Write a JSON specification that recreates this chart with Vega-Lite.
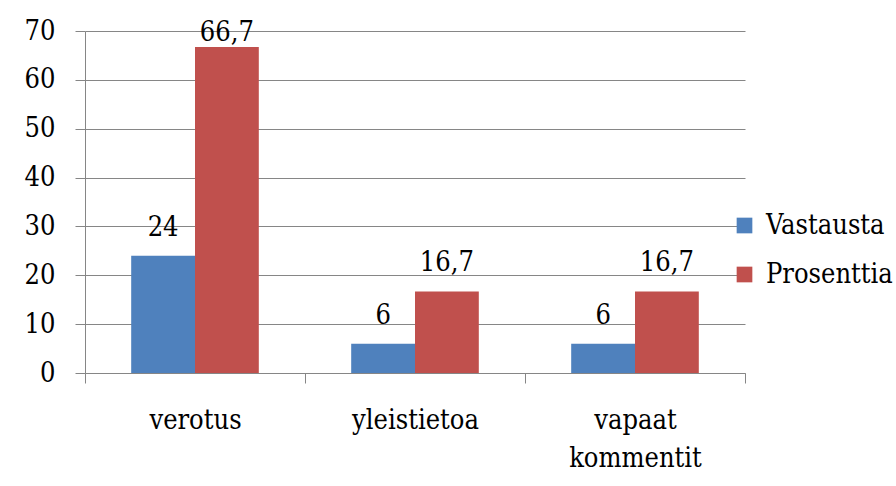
{
  "$schema": "https://vega.github.io/schema/vega-lite/v6.json",
  "width": 660,
  "height": 342,
  "autosize": {"type": "none"},
  "padding": {"left": 85, "top": 31, "right": 151, "bottom": 113},
  "background": "white",
  "config": {
    "view": {"stroke": null},
    "font": "DejaVu Serif Condensed",
    "locale": {"number": {"decimal": ",", "thousands": "\u00a0", "grouping": [3], "currency": ["", " €"]}}
  },
  "data": {
    "values": [
      {"category": "verotus", "series": "Vastausta", "value": 24},
      {"category": "verotus", "series": "Prosenttia", "value": 66.7},
      {"category": "yleistietoa", "series": "Vastausta", "value": 6},
      {"category": "yleistietoa", "series": "Prosenttia", "value": 16.7},
      {"category": "vapaat kommentit", "series": "Vastausta", "value": 6},
      {"category": "vapaat kommentit", "series": "Prosenttia", "value": 16.7}
    ]
  },
  "encoding": {
    "x": {
      "field": "category",
      "type": "nominal",
      "sort": ["verotus", "yleistietoa", "vapaat kommentit"],
      "scale": {"paddingInner": 0, "paddingOuter": 0},
      "title": null,
      "axis": {
        "tickBand": "extent",
        "tickSize": 10,
        "tickColor": "#868686",
        "domainColor": "#868686",
        "labelPadding": 24,
        "labelAngle": 0,
        "labelExpr": "isValid(datum.value) ? split(datum.value, ' ') : ''",
        "labelLineHeight": 38,
        "labelFont": "DejaVu Serif Condensed",
        "labelFontSize": 27,
        "labelColor": "black",
        "labelBaseline": "top",
        "labelLimit": 400,
        "grid": false
      }
    },
    "xOffset": {"field": "series", "type": "nominal", "sort": ["Vastausta", "Prosenttia"], "scale": {"paddingInner": 0, "paddingOuter": 0.724}}
  },
  "layer": [
    {
      "mark": {"type": "bar"},
      "encoding": {
        "y": {
          "field": "value",
          "type": "quantitative",
          "scale": {"domain": [0, 70], "nice": false},
          "title": null,
          "axis": {
            "values": [0, 10, 20, 30, 40, 50, 60, 70],
            "grid": true,
            "gridColor": "#868686",
            "domainColor": "#868686",
            "tickColor": "#868686",
            "tickSize": 10,
            "labelPadding": 20,
            "labelFont": "DejaVu Serif Condensed",
            "labelFontSize": 27,
            "labelColor": "black"
          }
        },
        "color": {
          "field": "series",
          "type": "nominal",
          "scale": {"domain": ["Vastausta", "Prosenttia"], "range": ["#4F81BD", "#C0504D"]},
          "legend": {
            "orient": "none",
            "legendX": 646,
            "legendY": 181,
            "title": null,
            "symbolType": "square",
            "symbolSize": 246,
            "symbolStrokeWidth": 0,
            "labelFont": "DejaVu Serif Condensed",
            "labelFontSize": 27,
            "labelColor": "black",
            "rowPadding": 21,
            "padding": 0,
            "labelOffset": 8
          }
        }
      }
    },
    {
      "transform": [{"calculate": "min(datum.value, 63.9)", "as": "labelY"}],
      "mark": {"type": "text", "dy": -20, "baseline": "alphabetic", "font": "DejaVu Serif Condensed", "fontSize": 27, "color": "black"},
      "encoding": {
        "y": {"field": "labelY", "type": "quantitative", "title": null},
        "text": {"field": "value", "type": "quantitative", "format": ".1~f"}
      }
    }
  ]
}
